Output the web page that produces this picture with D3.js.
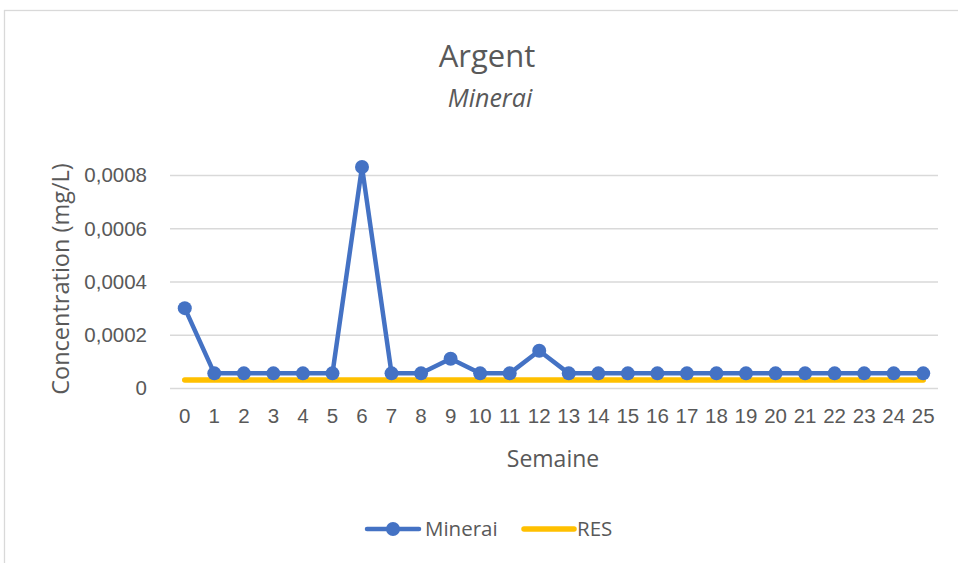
<!DOCTYPE html>
<html>
<head>
<meta charset="utf-8">
<script src="https://cdn.jsdelivr.net/npm/d3@7"></script>
<style>
  html, body { margin: 0; padding: 0; background: #fff; }
  svg { display: block; font-family: "Open Sans", "Noto Sans", sans-serif; }
</style>
</head>
<body>
<svg id="chart" width="958" height="563"></svg>
<script>
// Weekly silver concentration in ore leachate vs. the RES threshold
const weeks = d3.range(0, 26);
const minerai = [
  0.0003, 0.000055, 0.000055, 0.000055, 0.000055, 0.000055,
  0.00083, 0.000055, 0.000055, 0.00011, 0.000055, 0.000055,
  0.00014, 0.000055, 0.000055, 0.000055, 0.000055, 0.000055,
  0.000055, 0.000055, 0.000055, 0.000055, 0.000055, 0.000055,
  0.000055, 0.000055
];
const res = [
  0.00003, 0.00003, 0.00003, 0.00003, 0.00003, 0.00003,
  0.00003, 0.00003, 0.00003, 0.00003, 0.00003, 0.00003,
  0.00003, 0.00003, 0.00003, 0.00003, 0.00003, 0.00003,
  0.00003, 0.00003, 0.00003, 0.00003, 0.00003, 0.00003,
  0.00003, 0.00003
];
const yTickValues = [0, 0.0002, 0.0004, 0.0006, 0.0008];
const yTickLabels = ["0", "0,0002", "0,0004", "0,0006", "0,0008"];

const svg = d3.select("#chart");
const textColor = "#595959";
const gridColor = "#D9D9D9";
const blue = "#4472C4";
const gold = "#FFC000";

// chart frame
svg.append("rect")
  .attr("x", 4.5).attr("y", 10.5)
  .attr("width", 1000).attr("height", 600)
  .attr("fill", "#fff")
  .attr("stroke", gridColor).attr("stroke-width", 1.3);

const plot = { left: 170, right: 938, top: 175, bottom: 388 };

const x = d3.scaleBand().domain(weeks).range([plot.left, plot.right]);
const cx = d => x(d) + x.bandwidth() / 2;
const y = d3.scaleLinear().domain([0, 0.0008]).range([plot.bottom, plot.top]);

// gridlines and y tick labels
const yAxis = d3.axisLeft(y)
  .tickValues(yTickValues)
  .tickSize(-(plot.right - plot.left))
  .tickPadding(23)
  .tickFormat((d, i) => yTickLabels[i]);
const gy = svg.append("g").attr("transform", `translate(${plot.left},0)`).call(yAxis);
gy.select(".domain").remove();
gy.selectAll(".tick line").attr("stroke", gridColor).attr("stroke-width", 1.5);
gy.selectAll(".tick text")
  .attr("fill", textColor)
  .style("font-size", "20.5px")
  .attr("dy", "0.33em");

// category axis labels
const xAxis = d3.axisBottom(x).tickSize(0).tickPadding(20);
const gx = svg.append("g").attr("transform", `translate(0,${plot.bottom})`).call(xAxis);
gx.select(".domain").remove();
gx.selectAll(".tick text")
  .attr("fill", textColor)
  .style("font-size", "20.5px");

// RES threshold line
const lineGen = d3.line().x((d, i) => cx(weeks[i])).y(d => y(d));
svg.append("path")
  .datum(res)
  .attr("d", lineGen)
  .attr("fill", "none")
  .attr("stroke", gold)
  .attr("stroke-width", 5.5)
  .attr("stroke-linecap", "round");

// Minerai series
svg.append("path")
  .datum(minerai)
  .attr("d", lineGen)
  .attr("fill", "none")
  .attr("stroke", blue)
  .attr("stroke-width", 4.5)
  .attr("stroke-linejoin", "round")
  .attr("stroke-linecap", "round");

svg.append("g").selectAll("circle")
  .data(minerai)
  .join("circle")
  .attr("cx", (d, i) => cx(weeks[i]))
  .attr("cy", d => y(d))
  .attr("r", 7)
  .attr("fill", blue);

// titles
svg.append("text")
  .attr("x", 487).attr("y", 67)
  .attr("text-anchor", "middle")
  .attr("fill", textColor)
  .style("font-size", "31px")
  .text("Argent");
svg.append("text")
  .attr("x", 490).attr("y", 107)
  .attr("text-anchor", "middle")
  .attr("fill", textColor)
  .style("font-size", "25px")
  .style("font-style", "italic")
  .text("Minerai");

// axis titles
svg.append("text")
  .attr("x", 553).attr("y", 467)
  .attr("text-anchor", "middle")
  .attr("fill", textColor)
  .style("font-size", "23px")
  .text("Semaine");
svg.append("text")
  .attr("transform", "translate(69,279) rotate(-90)")
  .attr("text-anchor", "middle")
  .attr("fill", textColor)
  .style("font-size", "23.5px")
  .text("Concentration (mg/L)");

// legend
const legend = svg.append("g");
legend.append("line")
  .attr("x1", 367).attr("x2", 419).attr("y1", 529).attr("y2", 529)
  .attr("stroke", blue).attr("stroke-width", 4.5).attr("stroke-linecap", "round");
legend.append("circle")
  .attr("cx", 393).attr("cy", 529).attr("r", 7).attr("fill", blue);
legend.append("text")
  .attr("x", 425).attr("y", 536)
  .attr("fill", textColor)
  .style("font-size", "20.5px")
  .text("Minerai");
legend.append("line")
  .attr("x1", 524).attr("x2", 574).attr("y1", 529).attr("y2", 529)
  .attr("stroke", gold).attr("stroke-width", 5.5).attr("stroke-linecap", "round");
legend.append("text")
  .attr("x", 577).attr("y", 536)
  .attr("fill", textColor)
  .style("font-size", "20.5px")
  .text("RES");
</script>
</body>
</html>
